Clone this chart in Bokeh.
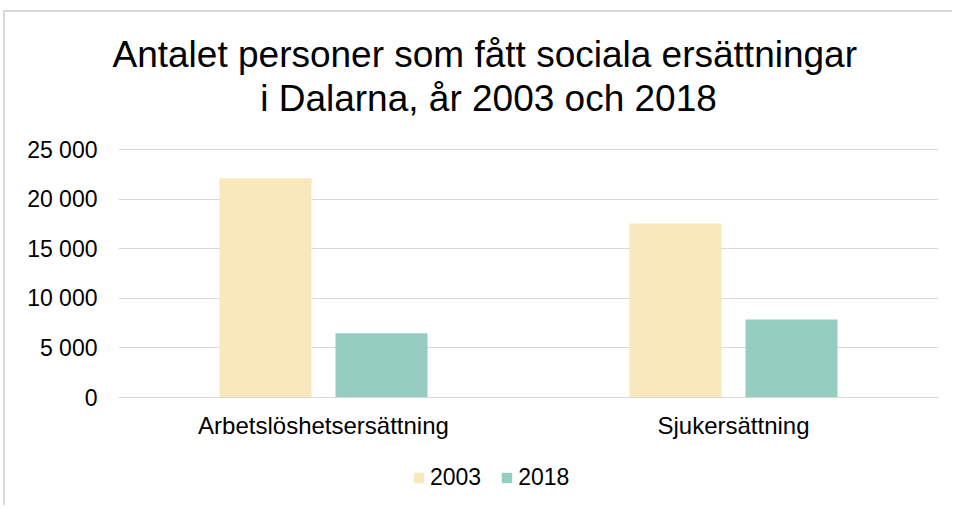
from bokeh.plotting import figure
from bokeh.models import (ColumnDataSource, FactorRange, Range1d, FixedTicker, Title, Label,
                          Legend, LegendItem, CategoricalAxis, InlineStyleSheet)
from bokeh.transform import dodge
from bokeh.embed import file_html
from bokeh.resources import INLINE

categories = ["Arbetslöshetsersättning", "Sjukersättning"]
years = ["2003", "2018"]
values_2003 = [22100, 17550]
values_2018 = [6480, 7870]
y_ticks = [0, 5000, 10000, 15000, 20000, 25000]
y_tick_labels = ["0", "5 000", "10 000", "15 000", "20 000", "25 000"]
title_lines = ["Antalet personer som fått sociala ersättningar", "i Dalarna, år 2003 och 2018"]

colors = {"2003": "#F9E8BB", "2018": "#95CEC0"}
FONT = "Liberation Sans"

# layout (pixels): figure size, frame edges, and where the value axis 0..25000 sits
W, H = 952, 505
FRAME_TOP = 76               # frame extends above the value area to hold the 2nd title line
ZERO_PX, TOP_PX = 397, 149   # pixel rows of value 0 and of 25 000
k = (ZERO_PX - TOP_PX) / y_ticks[-1]
y_start = -(H - ZERO_PX) / k
y_end = y_ticks[-1] + (TOP_PX - FRAME_TOP) / k

source = ColumnDataSource(data=dict(cat=categories, v2003=values_2003, v2018=values_2018))

p = figure(
    x_range=FactorRange(*categories, range_padding=0),
    y_range=Range1d(y_start, y_end),
    width=W, height=H,
    output_backend="svg", toolbar_location=None,
    title_location=None, x_axis_location=None,
    min_border_left=118, min_border_right=14, min_border_top=FRAME_TOP, min_border_bottom=0,
)
p.outline_line_color = None
p.background_fill_color = "white"
p.border_fill_color = "white"
p.stylesheets = [InlineStyleSheet(css="""
:host::before { content: ""; position: absolute; left: 3px; top: 10px; width: 949px; height: 2px;
                background: #D9D9D9; pointer-events: none; z-index: 10; }
:host::after  { content: ""; position: absolute; left: 3px; top: 10px; width: 2px; height: 495px;
                background: #D9D9D9; pointer-events: none; z-index: 10; }
""")]

r1 = p.vbar(x=dodge("cat", -0.1415, range=p.x_range), top="v2003", width=0.2245,
            source=source, fill_color=colors["2003"], line_color=None)
r2 = p.vbar(x=dodge("cat", 0.1415, range=p.x_range), top="v2018", width=0.2245,
            source=source, fill_color=colors["2018"], line_color=None)

xaxis = CategoricalAxis(fixed_location=0)
p.add_layout(xaxis, "below")

for g in p.grid:
    if g.dimension == 0:
        g.grid_line_color = None
    else:
        g.grid_line_color = "#D9D9D9"
        g.grid_line_width = 1
        g.ticker = FixedTicker(ticks=y_ticks)
p.yaxis.ticker = FixedTicker(ticks=y_ticks)
p.yaxis.major_label_overrides = {t: s for t, s in zip(y_ticks, y_tick_labels)}

for ax in (xaxis, p.yaxis[0]):
    ax.major_tick_line_color = None
    ax.minor_tick_line_color = None
    ax.major_tick_out = 0
    ax.major_tick_in = 0
    ax.major_label_text_font = FONT
    ax.major_label_text_color = "#000000"
p.yaxis.major_label_text_font_size = "23px"
xaxis.major_label_text_font_size = "24px"
p.yaxis.axis_line_color = None
p.yaxis.major_label_standoff = 21
xaxis.axis_line_color = "#D9D9D9"
xaxis.major_label_standoff = 14

# title line 1 above the frame, line 2 inside the (extended) frame
t1 = Title(text=title_lines[0], align="left", offset=-6, standoff=4,
           text_font=FONT, text_font_size="37px", text_font_style="normal", text_color="#000000")
p.add_layout(t1, "above")
p.add_layout(Label(x=370, y=H - 97.5, x_units="screen", y_units="screen", text=title_lines[1],
                   text_align="center", text_baseline="alphabetic",
                   text_font=FONT, text_font_size="37px", text_color="#000000"))

legend = Legend(items=[LegendItem(label=years[0], renderers=[r1]),
                       LegendItem(label=years[1], renderers=[r2])],
                orientation="horizontal", location=(294, 14),
                glyph_width=13, glyph_height=13, label_standoff=5, spacing=19,
                padding=0, margin=0, border_line_color=None, background_fill_alpha=0,
                label_text_font=FONT, label_text_font_size="23px", label_text_color="#000000",
                label_height=13)
p.add_layout(legend, "center")

open("out.html", "w").write(file_html(p, INLINE))
